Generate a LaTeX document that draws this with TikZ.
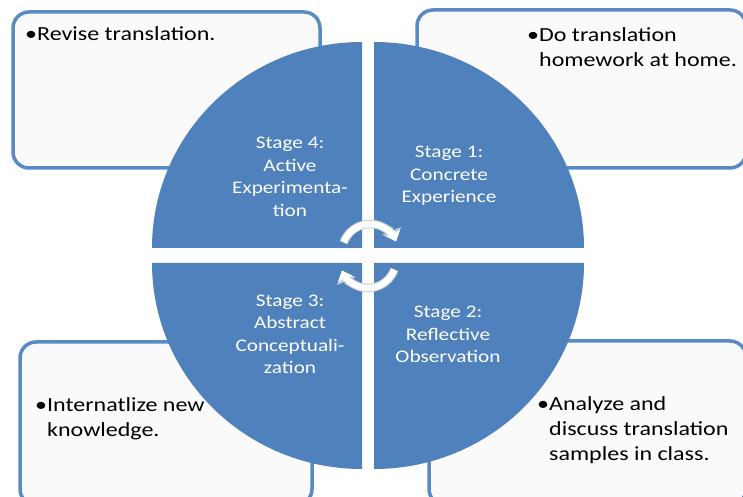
\documentclass[tikz,border=0pt]{standalone}
\usepackage{fontspec}
\setmainfont[FakeStretch=1.2]{Carlito}
\usetikzlibrary{arrows.meta}
\definecolor{cyclefill}{HTML}{4F81BD}
\definecolor{boxline}{HTML}{5A8AC6}
\definecolor{boxfill}{HTML}{FAFAFA}
\definecolor{turnedge}{HTML}{C4CCD8}

\begin{document}
\begin{tikzpicture}
	[x=1pt,y=1pt,
	quarter/.style={fill=cyclefill,draw=none},
	task box/.style={draw=boxline,line width=3.5pt,rounded corners=16pt,fill=boxfill},
	stage/.style={text=white,align=center,inner sep=0pt,font=\fontsize{17.7}{22.5}\selectfont},
	task/.style={align=left,inner sep=0pt,anchor=north west,font=\fontsize{20}{25}\selectfont},
	turn/.style={draw=white,line width=6.5pt,-{Triangle[width=0pt 2.3,length=0pt 1.35]},
		preaction={draw=turnedge,line width=8.5pt}}]
	\useasboundingbox (0,0) rectangle (743,497);
	
	% the four task boxes, behind the cycle
	\draw [task box] (13,485) rectangle (320,329);
	\draw [task box] (417,487) rectangle (746,329);
	\draw [task box] (20,155) rectangle (312,-8);
	\draw [task box] (429,156) rectangle (746,-8);
	
	% the cycle
	\path [quarter] (362,249) -- ++(180:210) arc [start angle=180,end angle=90,x radius=210,y radius=206] -- cycle;
	\path [quarter] (374,249) -- ++(0,206) arc [start angle=90,end angle=0,x radius=210,y radius=206] -- cycle;
	\path [quarter] (374,234) -- ++(210,0) arc [start angle=0,end angle=-90,x radius=210,y radius=206] -- cycle;
	\path [quarter] (362,234) -- ++(0,-206) arc [start angle=-90,end angle=-180,x radius=210,y radius=206] -- cycle;
	
	\node [stage] (s4) at (290,320) {Stage 4:\\Active\\Experimenta-\\tion};
	\node [stage] (s1) at (449,321) {Stage 1:\\Concrete\\Experience};
	\node [stage] (s3) at (290,162.5) {Stage 3:\\Abstract\\Conceptuali-\\zation};
	\node [stage] (s2) at (448,162.5) {Stage 2:\\Reflective\\Observation};
	
	\node [task] (revise) at (25,471) {\textbullet Revise translation.};
	\node [task] (homework) at (527,470) {\textbullet Do translation\\\phantom{\textbullet}homework at home.};
	\node [task] (internalize) at (35,100) {\textbullet Internatlize new\\\phantom{\textbullet}knowledge.};
	\node [task] (analyze) at (537,101) {\textbullet Analyze and\\\phantom{\textbullet}discuss translation\\\phantom{\textbullet}samples in class.};
	
	\coordinate (turn top) at (343.7,254.6);
	\coordinate (turn bottom) at (394.3,227.4);
	\draw [turn] (turn top) arc (160:22:28);
	\draw [turn] (turn bottom) arc (-20:-158:28);
	
\end{tikzpicture}
\end{document}
